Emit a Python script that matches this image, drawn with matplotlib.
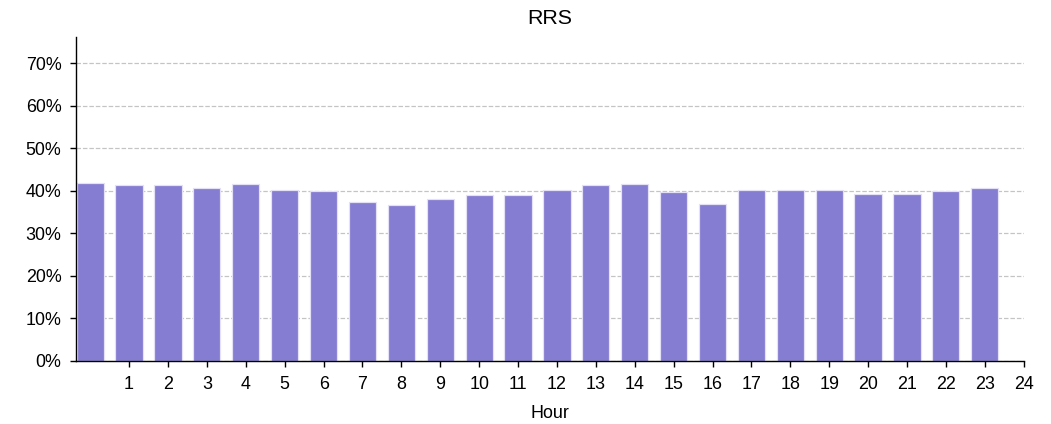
import matplotlib.pyplot as plt
from matplotlib.ticker import PercentFormatter
import numpy as np

plt.rcParams['font.family'] = ['Liberation Sans', 'DejaVu Sans']

hours = list(range(24))
rrs = [0.419, 0.413, 0.413, 0.406, 0.416, 0.402, 0.400, 0.373, 0.367, 0.380,
       0.390, 0.390, 0.402, 0.413, 0.416, 0.396, 0.370, 0.402, 0.402, 0.402,
       0.393, 0.393, 0.400, 0.406]
tick_hours = list(range(1, 25))

fig, ax = plt.subplots(figsize=(8.408, 3.392), dpi=125)
fig.subplots_adjust(left=0.0725, right=0.974, top=0.913, bottom=0.149)

ax.bar(hours, rrs, width=0.7, color='#857dd2', edgecolor='#e4e1f6',
       linewidth=0.7, zorder=2)

ax.set_xlim(-0.36, 24.0)
ax.set_ylim(0, 0.762)
ax.set_xticks(tick_hours)
ax.set_xticklabels([str(h) for h in tick_hours], fontsize=10.3)
ax.set_yticks(np.arange(0, 0.71, 0.1))
ax.yaxis.set_major_formatter(PercentFormatter(1.0, decimals=0))
ax.tick_params(axis='y', labelsize=10.3, pad=5)
ax.tick_params(axis='x', pad=5)
ax.grid(axis='y', linestyle='--', color='#c4c4c4', linewidth=0.7, zorder=3)

ax.spines['top'].set_visible(False)
ax.spines['right'].set_visible(False)

ax.set_title('RRS', fontsize=12.3, pad=7.5)
ax.set_xlabel('Hour', fontsize=10.3, labelpad=7)

plt.savefig('out.png', dpi=125)
